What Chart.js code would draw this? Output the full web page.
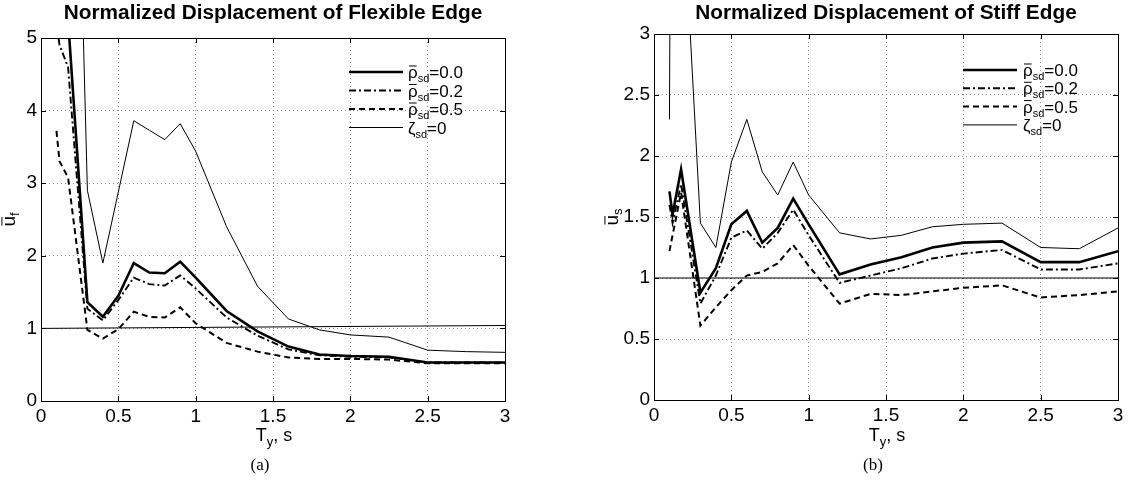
<!DOCTYPE html>
<html>
<head>
<meta charset="utf-8">
<script src="https://cdn.jsdelivr.net/npm/chart.js@4.4.0/dist/chart.umd.min.js"></script>
<style>
	html, body { margin: 0; padding: 0; background: #fff; }
	#wrap { position: relative; width: 1132px; height: 481px; overflow: hidden; }
	.panel { position: absolute; top: 0; width: 566px; height: 481px; }
</style>
</head>
<body>
<div id="wrap">
	<div class="panel" style="left:0"><canvas id="flex" width="566" height="481"></canvas></div>
	<div class="panel" style="left:566px"><canvas id="stiff" width="566" height="481"></canvas></div>
</div>
<script>
// ---- Data ----
const periods = [0.1, 0.12, 0.175, 0.3, 0.4, 0.5, 0.6, 0.7, 0.8, 0.9, 1.0, 1.2, 1.4, 1.6, 1.8, 2.0, 2.25, 2.5, 2.75, 3.0];

// flexible edge
const flexRho00 = [9.0, 8.0, 5.25, 1.36, 1.16, 1.45, 1.90, 1.77, 1.76, 1.92, 1.70, 1.24, 0.96, 0.75, 0.64, 0.62, 0.61, 0.53, 0.53, 0.53];
const flexRho02 = [5.2, 4.9, 4.6, 1.27, 1.11, 1.39, 1.70, 1.61, 1.59, 1.73, 1.55, 1.15, 0.90, 0.71, 0.63, 0.61, 0.60, 0.53, 0.53, 0.53];
const flexRho05 = [3.72, 3.30, 3.08, 0.98, 0.86, 0.99, 1.23, 1.16, 1.15, 1.29, 1.07, 0.80, 0.68, 0.60, 0.58, 0.58, 0.57, 0.52, 0.52, 0.52];
const flexZeta = [13, 13, 13, 2.90, 1.90, 2.88, 3.86, 3.73, 3.60, 3.82, 3.44, 2.40, 1.58, 1.13, 0.98, 0.91, 0.88, 0.70, 0.68, 0.67];
const flexRef = [1.0, 1.04];

// stiff edge
const stiffRho00 = [1.71, 1.52, 1.89, 0.88, 1.08, 1.44, 1.55, 1.29, 1.41, 1.65, 1.44, 1.03, 1.11, 1.17, 1.25, 1.29, 1.30, 1.13, 1.13, 1.22];
const stiffRho02 = [1.60, 1.45, 1.77, 0.79, 1.02, 1.33, 1.39, 1.24, 1.37, 1.56, 1.35, 0.96, 1.02, 1.08, 1.16, 1.20, 1.23, 1.07, 1.07, 1.12];
const stiffRho05 = [1.22, 1.35, 1.70, 0.61, 0.76, 0.90, 1.02, 1.05, 1.12, 1.27, 1.10, 0.79, 0.87, 0.86, 0.89, 0.92, 0.94, 0.84, 0.86, 0.89];
const stiffZeta = [2.30, 8.0, 4.40, 1.45, 1.25, 1.95, 2.30, 1.87, 1.68, 1.95, 1.68, 1.37, 1.32, 1.35, 1.42, 1.44, 1.45, 1.25, 1.24, 1.41];
const stiffRef = [1.0, 1.0];

// ticks & legend
const xTicks = [0, 0.5, 1, 1.5, 2, 2.5, 3];
const flexYTicks = [0, 1, 2, 3, 4, 5];
const stiffYTicks = [0, 0.5, 1, 1.5, 2, 2.5, 3];
const legendRho = ["0.0", "0.2", "0.5"];
const legendZeta = "0";

// ---- Styles ----
const FONT = "'Liberation Sans', Arial, Helvetica, sans-serif";
const SERIF = "'Liberation Serif', 'Times New Roman', serif";
const STYLES = [
	{ width: 2.6, dash: [] },
	{ width: 1.9, dash: [7, 3, 2, 3] },
	{ width: 2, dash: [6, 4] },
	{ width: 1, dash: [] },
];

// ---- Helpers ----
// draws a run of text pieces (sub/superscript offsets, optional overbar)
function richWidth(ctx, parts) {
	let w = 0;
	for (const p of parts) {
		ctx.font = `${p.size}px ${FONT}`;
		w += ctx.measureText(p.t).width;
	}
	return w;
}
function drawRich(ctx, parts, x, y, align) {
	let cx = align === "center" ? x - richWidth(ctx, parts) / 2 : x;
	ctx.textAlign = "left";
	ctx.textBaseline = "alphabetic";
	for (const p of parts) {
		ctx.font = `${p.size}px ${FONT}`;
		const w = ctx.measureText(p.t).width;
		ctx.fillText(p.t, cx, y + (p.dy || 0));
		if (p.bar) {
			// bar sits just above the x-height
			const by = y - p.size * 0.53 - 3;
			ctx.beginPath();
			ctx.lineWidth = 1;
			ctx.setLineDash([]);
			ctx.moveTo(cx + 1, by);
			ctx.lineTo(cx + w - 1, by);
			ctx.stroke();
		}
		cx += w;
	}
}

// ---- Frame, labels, legend ----
const decor = {
	id: "decor",
	afterDraw(chart, args, o) {
		const { ctx, chartArea: a, scales } = chart;
		ctx.save();
		ctx.strokeStyle = "#000";
		ctx.fillStyle = "#000";
		ctx.lineWidth = 1;
		ctx.setLineDash([]);
		ctx.strokeRect(Math.round(a.left) + 0.5, Math.round(a.top) + 0.5, Math.round(a.right - a.left), Math.round(a.bottom - a.top));

		// inward tick marks on all sides
		ctx.beginPath();
		for (const v of xTicks) {
			const px = Math.round(scales.x.getPixelForValue(v)) + 0.5;
			ctx.moveTo(px, a.bottom);
			ctx.lineTo(px, a.bottom - 5);
			ctx.moveTo(px, a.top);
			ctx.lineTo(px, a.top + 5);
		}
		for (const v of o.yTicks) {
			const py = Math.round(scales.y.getPixelForValue(v)) + 0.5;
			ctx.moveTo(a.left, py);
			ctx.lineTo(a.left + 5, py);
			ctx.moveTo(a.right, py);
			ctx.lineTo(a.right - 5, py);
		}
		ctx.stroke();

		// title (slightly widened bold face)
		ctx.save();
		ctx.font = `bold 20px ${FONT}`;
		ctx.textAlign = "center";
		ctx.textBaseline = "middle";
		ctx.translate((a.left + a.right) / 2, 13);
		ctx.scale(1.04, 1);
		ctx.fillText(o.title, 0, 0);
		ctx.restore();

		// x axis label
		drawRich(ctx, [
			{ t: "T", size: 18 },
			{ t: "y", size: 13, dy: 5 },
			{ t: ", s", size: 18 },
		], (a.left + a.right) / 2 + 1, 441, "center");

		// y axis label, rotated
		ctx.save();
		ctx.translate(o.yLabelX, (a.top + a.bottom) / 2);
		ctx.rotate(-Math.PI / 2);
		drawRich(ctx, [
			{ t: "u", size: 19, bar: true },
			{ t: o.ySub, size: 13, dy: 4 },
		], 0, 0, "center");
		ctx.restore();

		// legend
		const lg = o.legend;
		for (let i = 0; i < 4; i++) {
			const y = lg.y0 + i * lg.dy;
			ctx.beginPath();
			ctx.lineWidth = STYLES[i].width;
			ctx.setLineDash(STYLES[i].dash);
			ctx.moveTo(lg.x1, y);
			ctx.lineTo(lg.x2, y);
			ctx.stroke();
			ctx.setLineDash([]);
			const parts = i < 3
				? [{ t: "ρ", size: 17, bar: true }, { t: "sd", size: 11, dy: 4 }, { t: "=" + legendRho[i], size: 17 }]
				: [{ t: "ζ", size: 17 }, { t: "sd", size: 11, dy: 4 }, { t: "=" + legendZeta, size: 17 }];
			drawRich(ctx, parts, lg.textX, y + 6, "left");
		}

		// caption
		ctx.font = `17px ${SERIF}`;
		ctx.textAlign = "center";
		ctx.textBaseline = "middle";
		ctx.fillText(o.caption, (a.left + a.right) / 2 - 13, 466);
		ctx.restore();
	},
};

function buildPanel(id, p) {
	const series = [p.rho00, p.rho02, p.rho05, p.zeta];
	const names = ["rho 0.0", "rho 0.2", "rho 0.5", "zeta 0"];
	const datasets = series.map((vals, i) => ({
		label: names[i],
		data: periods.map((x, k) => ({ x, y: vals[k] })),
		borderColor: "#000",
		borderWidth: STYLES[i].width,
		borderDash: STYLES[i].dash,
		pointRadius: 0,
		tension: 0,
		fill: false,
	}));
	datasets.push({
		label: "ref",
		data: [{ x: 0, y: p.ref[0] }, { x: 3, y: p.ref[1] }],
		borderColor: "#000",
		borderWidth: 1,
		pointRadius: 0,
		fill: false,
	});

	const grid = { color: "#8a8a8a", lineWidth: 1, drawTicks: false };
	const border = { display: false, dash: [1, 3] };
	const tickFont = { family: FONT, size: 19 };

	return new Chart(document.getElementById(id), {
		type: "line",
		data: { datasets },
		options: {
			responsive: false,
			devicePixelRatio: 1,
			animation: false,
			events: [],
			layout: {
				padding: { left: 0, top: p.area.top, right: 566 - p.area.right, bottom: 481 - p.area.bottom - 30 },
			},
			scales: {
				x: {
					type: "linear",
					min: 0,
					max: 3,
					grid,
					border,
					afterBuildTicks: (s) => { s.ticks = xTicks.map((v) => ({ value: v })); },
					afterFit: (s) => { s.height = 30; },
					ticks: { color: "#000", font: tickFont, padding: 4, maxRotation: 0, autoSkip: false, callback: (v) => String(v) },
				},
				y: {
					type: "linear",
					min: 0,
					max: p.yMax,
					grid,
					border,
					afterBuildTicks: (s) => { s.ticks = p.yTicks.map((v) => ({ value: v })); },
					afterFit: (s) => { s.width = p.area.left; },
					ticks: { color: "#000", font: tickFont, padding: 4, autoSkip: false, callback: (v) => String(v) },
				},
			},
			plugins: {
				legend: { display: false },
				tooltip: { enabled: false },
				decor: {
					title: p.title,
					yTicks: p.yTicks,
					ySub: p.ySub,
					yLabelX: p.yLabelX,
					legend: p.legend,
					caption: p.caption,
				},
			},
		},
		plugins: [decor],
	});
}

buildPanel("flex", {
	rho00: flexRho00, rho02: flexRho02, rho05: flexRho05, zeta: flexZeta, ref: flexRef,
	yMax: 5, yTicks: flexYTicks,
	area: { left: 41, top: 38, right: 505, bottom: 401 },
	title: "Normalized Displacement of Flexible Edge",
	ySub: "f", yLabelX: 15,
	legend: { x1: 349, x2: 403, textX: 408, y0: 72, dy: 18.5 },
	caption: "(a)",
});

buildPanel("stiff", {
	rho00: stiffRho00, rho02: stiffRho02, rho05: stiffRho05, zeta: stiffZeta, ref: stiffRef,
	yMax: 3, yTicks: stiffYTicks,
	area: { left: 88, top: 34, right: 552, bottom: 400 },
	title: "Normalized Displacement of Stiff Edge",
	ySub: "s", yLabelX: 52,
	legend: { x1: 397, x2: 451, textX: 457, y0: 70, dy: 18.3 },
	caption: "(b)",
});
</script>
</body>
</html>
